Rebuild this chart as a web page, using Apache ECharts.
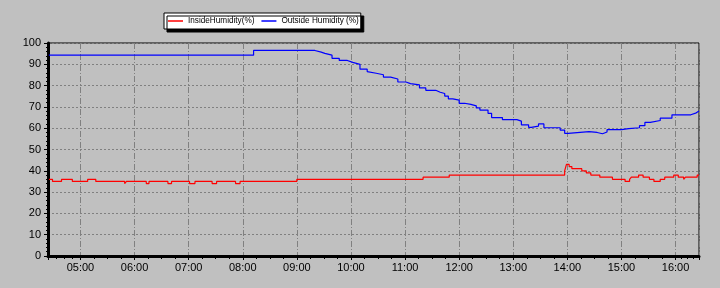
<!DOCTYPE html>
<html><head><meta charset="utf-8">
<script src="https://cdn.jsdelivr.net/npm/echarts@6/dist/echarts.min.js"></script>
<style>html,body{margin:0;padding:0;background:#c0c0c0}#c{width:720px;height:288px}</style>
</head><body><div id="c"></div>
<script>
// Inside Humidity (%) change points (value holds until next time)
const insideTimes = ['04:25','04:29','04:39','04:51','05:08','05:17','05:49','05:51','06:13','06:16','06:37','06:41','07:01','07:07','07:26','07:31','07:52','07:57','09:00','11:20','11:49','13:57','13:59','14:02','14:05','14:16','14:21','14:26','14:36','14:50','15:04','15:09','15:11','15:19','15:24','15:31','15:36','15:43','15:48','15:58','16:03','16:09','16:11','16:24','16:26'];
const insideValues = [36,35,36,35,36,35,34,35,34,35,34,35,34,35,34,35,34,35,36,37,38,40,43,42,41,40,39,38,37,36,35,36,37,38,37,36,35,36,37,38,37,36,37,38,38];
// Outside Humidity (%) change points
const outsideTimes = ['04:25','08:12','09:20','09:27','09:31','09:39','09:47','09:56','10:02','10:10','10:18','10:19','10:28','10:36','10:44','10:52','11:01','11:06','11:16','11:23','11:34','11:39','11:44','11:48','11:53','12:00','12:06','12:13','12:19','12:23','12:32','12:36','12:48','13:04','13:09','13:17','13:20','13:28','13:34','13:52','13:57','14:01','14:24','14:33','14:39','14:44','15:00','15:08','15:20','15:26','15:32','15:43','15:56','16:17','16:23','16:26'];
const outsideValues = [94.3,96.5,95.7,95.1,94.3,92.8,91.8,90.9,90,87.7,86.6,85.8,85.1,84,83.1,81.7,80.9,80.3,78.9,77.8,76.9,76.3,75.1,73.8,73.2,71.7,71.2,70.5,69.5,68.5,67,65,64,63.3,61.6,60.4,61,62,60.2,59.1,57.6,58.4,58,57.4,58.2,59.3,59.8,60.2,61.2,62.7,63.6,64.7,66.3,67.2,68.1,68.1];
const seriesNames = ['InsideHumidity(%)','Outside Humidity (%)'];
const axisMin = '04:24', axisMax = '16:26';

function ts(s){const p=s.split(':').map(Number);return new Date(2024,0,1,p[0],p[1]).getTime();}
function pairs(t,v){return t.map((x,i)=>[ts(x),v[i]]);}

const font = 'Liberation Sans, Arial, sans-serif';
const chart = echarts.init(document.getElementById('c'), null, {renderer:'canvas'});
chart.setOption({
  animation:false,
  backgroundColor:'#c0c0c0',
  textStyle:{fontFamily:font},
  legend:{
    left:164, top:13, padding:[4,2,4,4], itemGap:7, itemWidth:15, itemHeight:1.5, icon:'rect',
    backgroundColor:'#fff', borderColor:'#000', borderWidth:1,
    shadowColor:'#000', shadowOffsetX:3, shadowOffsetY:3, shadowBlur:0,
    selectedMode:false,
    textStyle:{fontFamily:font, fontSize:8.2, color:'#000'},
    data:seriesNames
  },
  grid:{left:48,right:21,top:43,bottom:32,show:true,backgroundColor:'#c0c0c0',borderColor:'#000',borderWidth:1,containLabel:false},
  xAxis:{
    type:'time', min:ts(axisMin), max:ts(axisMax), minInterval:3600000, maxInterval:3600000,
    axisLine:{lineStyle:{color:'#000',width:3}},
    axisTick:{show:true,length:4,lineStyle:{color:'#000'}},
    minorTick:{show:true,splitNumber:4,length:3,lineStyle:{color:'#000'}},
    axisLabel:{formatter:'{HH}:{mm}',color:'#000',fontSize:11,margin:6,fontFamily:font},
    splitLine:{show:true,lineStyle:{color:'#808080',width:1,type:[6,2,1,2]}}
  },
  yAxis:{
    type:'value', min:0, max:100, interval:10,
    axisLine:{show:true,lineStyle:{color:'#000',width:3}},
    axisTick:{show:true,length:4,lineStyle:{color:'#000'}},
    minorTick:{show:true,splitNumber:5,length:2,lineStyle:{color:'#000'}},
    axisLabel:{color:'#000',fontSize:11,margin:7,fontFamily:font},
    splitLine:{show:true,lineStyle:{color:'#808080',width:1,type:[2,2]}}
  },
  series:[
    {name:seriesNames[0],type:'line',step:'end',showSymbol:false,color:'#ff0000',lineStyle:{color:'#ff0000',width:1.2},data:pairs(insideTimes,insideValues)},
    {name:seriesNames[1],type:'line',step:'end',showSymbol:false,color:'#0000ff',lineStyle:{color:'#0000ff',width:1.2},data:pairs(outsideTimes,outsideValues)}
  ]
});
</script></body></html>
